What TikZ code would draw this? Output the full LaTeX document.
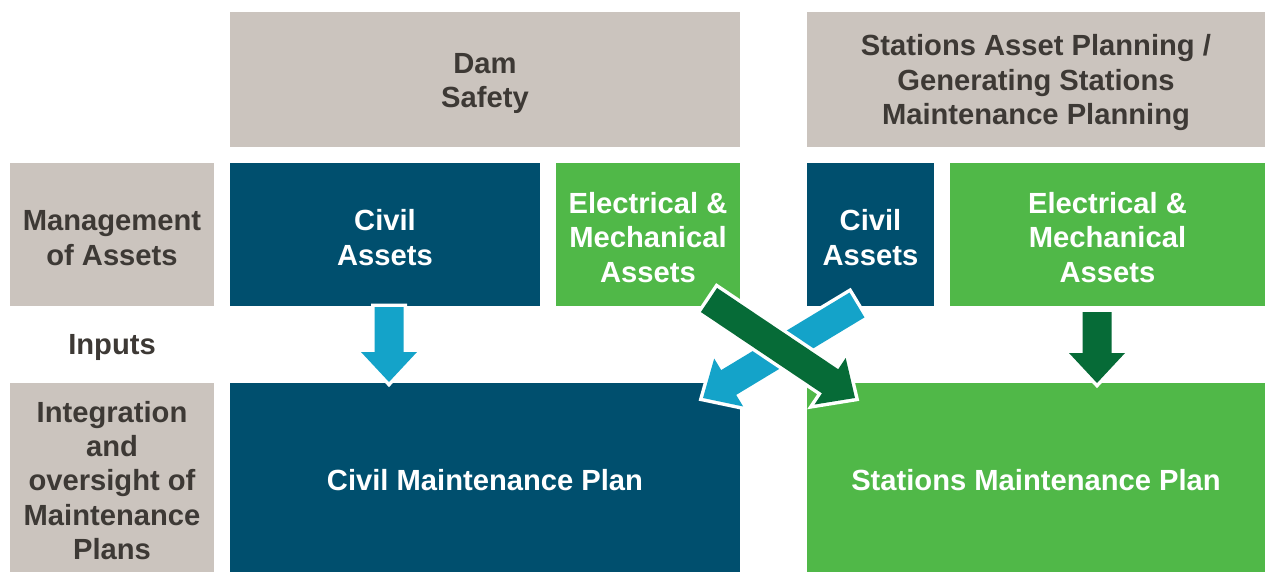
\documentclass[tikz,border=0pt]{standalone}
\usepackage{fontspec}
\setmainfont{Liberation Sans}
\usepackage{xcolor}
\definecolor{HeadGrey}{HTML}{CBC4BE}
\definecolor{LabelText}{HTML}{3D3935}
\definecolor{CivilBlue}{HTML}{004F6E}
\definecolor{StationGreen}{HTML}{50B848}
\definecolor{InputCyan}{HTML}{14A3C9}
\definecolor{InputGreen}{HTML}{066B37}
\usetikzlibrary{calc}

% extra room above the first line of a cell
\newcommand{\topstrut}{\rule{0pt}{15.5pt}}

% block arrow: fill colour, tail, tip
\newcommand{\blockarrow}[3]{%
  \coordinate (headbase) at ($(#3)!0.6cm!(#2)$);
  \fill[#1, preaction={draw=white, line width=0.14cm, line join=miter}]
    ($(#2)!0.29cm!90:(#3)$)
    -- ($(headbase)!0.29cm!90:(#3)$)
    -- ($(headbase)!0.56cm!90:(#3)$)
    -- (#3)
    -- ($(headbase)!0.56cm!-90:(#3)$)
    -- ($(headbase)!0.29cm!-90:(#3)$)
    -- ($(#2)!0.29cm!-90:(#3)$)
    -- cycle;
}

\tikzset{
  cell/.style={rectangle, inner sep=0pt, align=center,
    font=\bfseries\fontsize{16.6}{19.4}\selectfont},
  size/.style 2 args={minimum width=#1*0.02cm, minimum height=#2*0.02cm},
  headcell/.style={cell, fill=HeadGrey, text=LabelText},
  civilcell/.style={cell, fill=CivilBlue, text=white},
  stationcell/.style={cell, fill=StationGreen, text=white},
}

\begin{document}
\begin{tikzpicture}[x=0.02cm, y=-0.02cm]

\useasboundingbox (0,0) rectangle (1265,572);

% top row
\node[headcell, size={510}{135}] (damsafety) at (485,79.5) {\topstrut Dam\\Safety};
\node[headcell, size={458}{135}] (stationplanning) at (1036,79.5)
    {\topstrut Stations Asset Planning /\\Generating Stations\\Maintenance Planning};

% management row
\node[headcell, size={204}{143}] (management) at (112,234.5) {\topstrut Management\\of Assets};
\node[civilcell, size={310}{143}] (damcivil) at (385,234.5) {\topstrut Civil\\Assets};
\node[stationcell, size={184}{143}] (damem) at (648,234.5) {\topstrut Electrical \&\\Mechanical\\Assets};
\node[civilcell, size={127}{143}] (stcivil) at (870.5,234.5) {\topstrut Civil\\Assets};
\node[stationcell, size={315}{143}] (stem) at (1107.5,234.5) {\topstrut Electrical \&\\Mechanical\\Assets};

\node[cell, text=LabelText] (inputs) at (112,344) {\topstrut Inputs};

% plans row
\node[headcell, size={204}{189}] (integration) at (112,477.5)
    {\topstrut Integration\\and\\oversight of\\Maintenance\\Plans};
\node[civilcell, size={510}{189}] (civilplan) at (485,477.5) {\topstrut Civil Maintenance Plan};
\node[stationcell, size={458}{189}] (stationplan) at (1036,477.5) {\topstrut Stations Maintenance Plan};

% inputs
\coordinate (civildown) at (389,307);
\coordinate (civildowntip) at (389,382);
\coordinate (emdown) at (1097,312);
\coordinate (emdowntip) at (1097,383);
\coordinate (crosscivil) at (857,305);
\coordinate (crossciviltip) at (703,398);
\coordinate (crossem) at (709,300);
\coordinate (crossemtip) at (855,398);

\blockarrow{InputCyan}{civildown}{civildowntip}
\blockarrow{InputGreen}{emdown}{emdowntip}
\blockarrow{InputCyan}{crosscivil}{crossciviltip}
\blockarrow{InputGreen}{crossem}{crossemtip}

\end{tikzpicture}
\end{document}
